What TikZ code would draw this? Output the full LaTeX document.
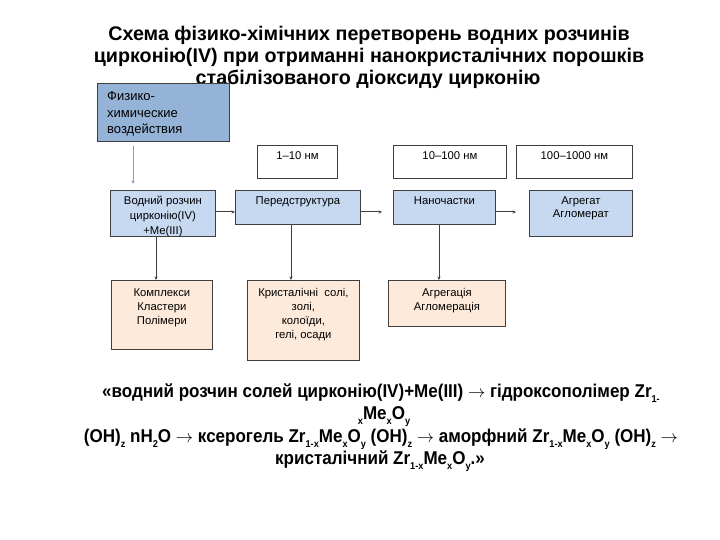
\documentclass[tikz,border=0pt]{standalone}
\usepackage{fontspec}
\setmainfont{Liberation Sans}
\newfontfamily\narrowfont[FakeStretch=0.92]{Liberation Sans}
\usetikzlibrary{arrows.meta,calc}
\definecolor{bluedark}{HTML}{95B3D7}
\definecolor{bluelight}{HTML}{C6D9F1}
\definecolor{peach}{HTML}{FDEADA}
\definecolor{edge}{HTML}{3F3F3F}
\definecolor{physarrow}{HTML}{7F9FCF}
\newcommand{\sbs}[1]{\raisebox{-0.3em}{\fontsize{10}{10}\selectfont #1}}
\newcommand{\arr}{\ensuremath{\rightarrow}}
\begin{document}
\begin{tikzpicture}[x=1pt,y=-1pt,
  box/.style={draw=edge, line width=0.8pt, inner sep=0pt, anchor=north west},
  darkbox/.style={box, fill=bluedark},
  lightbox/.style={box, fill=bluelight},
  peachbox/.style={box, fill=peach},
  whitebox/.style={box, fill=white},
  boxtext/.style={anchor=north, inner sep=0pt, align=center, font=\fontsize{11.3}{14.8}\selectfont},
  titletext/.style={anchor=base, inner sep=0pt, font=\bfseries\fontsize{19.7}{22}\selectfont},
  formula/.style={anchor=base, inner sep=0pt, font=\narrowfont\bfseries\fontsize{18.5}{21}\selectfont},
  conn/.style={draw=edge, line width=1pt, -{Stealth[length=3.5pt,width=3pt]}},
  physconn/.style={draw=physarrow, line width=0.8pt, -{Stealth[length=3.5pt,width=3pt]}}
]
\useasboundingbox[fill=white] (0,0) rectangle (720,540);

% title
\node[titletext] (t1) at (369,41) {Схема фізико-хімічних перетворень водних розчинів};
\node[titletext] (t2) at (369,63) {цирконію(IV) при отриманні нанокристалічних порошків};
\node[titletext] (t3) at (368,85) {стабілізованого діоксиду цирконію};

% boxes
\node[darkbox, minimum width=132pt, minimum height=58pt] (phys) at (97,83) {};
\node[anchor=north west, inner sep=0pt, align=left, font=\fontsize{13}{16.8}\selectfont] (physt) at (107,91) {Физико-\\химические\\воздействия};

\node[whitebox, minimum width=80pt, minimum height=33pt,
  label={[boxtext, yshift=-6.5pt]north:{1–10 нм}}] (n1) at (257,145) {};
\node[whitebox, minimum width=113pt, minimum height=33pt,
  label={[boxtext, yshift=-6.5pt]north:{10–100 нм}}] (n2) at (393,145) {};
\node[whitebox, minimum width=116pt, minimum height=33pt,
  label={[boxtext, yshift=-6.5pt]north:{100–1000 нм}}] (n3) at (516,145) {};

\node[lightbox, minimum width=105pt, minimum height=46pt,
  label={[boxtext, yshift=-6pt]north:{Водний розчин\\цирконію(IV)\\+Me(III)}}] (water) at (110,190) {};
\node[lightbox, minimum width=125pt, minimum height=34pt,
  label={[boxtext, yshift=-7pt]north:{Передструктура}}] (pre) at (235,190) {};
\node[lightbox, minimum width=102pt, minimum height=34pt,
  label={[boxtext, yshift=-7pt]north:{Наночастки}}] (nano) at (393,190) {};
\node[lightbox, minimum width=103pt, minimum height=46pt,
  label={[boxtext, yshift=-6.5pt, font=\fontsize{11.3}{13.5}\selectfont]north:{Агрегат\\Агломерат}}] (agg) at (529,190) {};

\node[peachbox, minimum width=101pt, minimum height=69pt,
  label={[boxtext, yshift=-8.5pt, font=\fontsize{11.3}{14}\selectfont]north:{Комплекси\\Кластери\\Полімери}}] (kompl) at (111,280) {};
\node[peachbox, minimum width=112pt, minimum height=80pt,
  label={[boxtext, yshift=-8.5pt, font=\fontsize{11.3}{14}\selectfont]north:{Кристалічні\ \ солі,\\золі,\\колоїди,\\гелі, осади}}] (kryst) at (247,280) {};
\node[peachbox, minimum width=117pt, minimum height=46pt,
  label={[boxtext, yshift=-8.5pt, font=\fontsize{11.3}{14}\selectfont]north:{Агрегація\\Агломерація}}] (aggr) at (388,280) {};

% connectors
\coordinate (arow) at (0,212);
\draw[physconn] ($(phys.south west)+(36,4)$) -- ($(water.north west)+(23,-6)$);
\draw[conn] (water.east |- arow) -- (pre.west |- arow);
\draw[conn] (pre.east |- arow) -- ($(nano.west |- arow)+(-11,0)$);
\draw[conn] (nano.east |- arow) -- ($(agg.west |- arow)+(-13,0)$);
\draw[conn] ($(water.south west)+(46,0)$) -- ($(kompl.north west)+(45,0)$);
\draw[conn] ($(pre.south west)+(56,0)$) -- ($(kryst.north west)+(44,0)$);
\draw[conn] ($(nano.south west)+(46,0)$) -- ($(aggr.north west)+(51,0)$);

% formula
\node[formula] (f1) at (381,397) {«водний розчин солей цирконію(IV)+Me(III) \arr{} гідроксополімер Zr\sbs{1-}};
\node[formula] (f2) at (384,419) {\sbs{x}Me\sbs{x}O\sbs{y}};
\node[formula] (f3) at (381,442) {(OH)\sbs{z} nH\sbs{2}O \arr{} ксерогель Zr\sbs{1-x}Me\sbs{x}O\sbs{y} (OH)\sbs{z} \arr{} аморфний Zr\sbs{1-x}Me\sbs{x}O\sbs{y} (OH)\sbs{z} \arr};
\node[formula] (f4) at (380,464) {кристалічний Zr\sbs{1-x}Me\sbs{x}O\sbs{y}.»};
\end{tikzpicture}
\end{document}
